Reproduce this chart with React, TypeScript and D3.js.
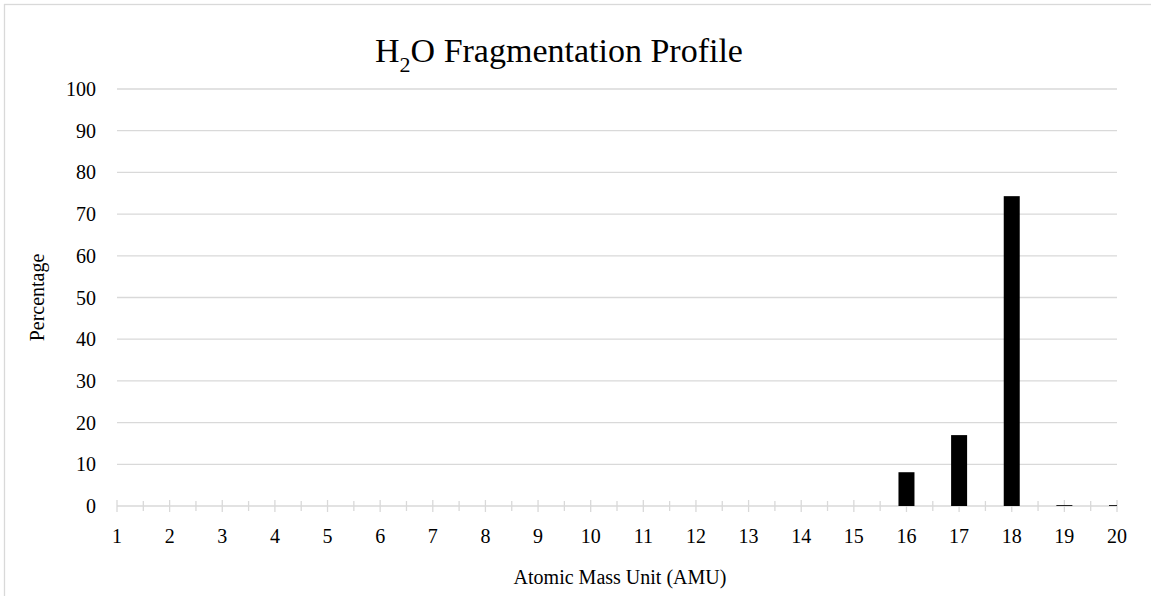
import React from "react";
import * as d3 from "d3";

const amu = [1, 2, 3, 4, 5, 6, 7, 8, 9, 10, 11, 12, 13, 14, 15, 16, 17, 18, 19, 20];
const percentage = [0, 0, 0, 0, 0, 0, 0, 0, 0, 0, 0, 0, 0, 0, 0, 8.1, 17.0, 74.3, 0.2, 0.2];
const yTicks = [0, 10, 20, 30, 40, 50, 60, 70, 80, 90, 100];
const titleMain = "H";
const titleSub = "2";
const titleRest = "O Fragmentation Profile";
const yTitle = "Percentage";
const xTitle = "Atomic Mass Unit (AMU)";

const W = 1151;
const H = 596;
const M = { left: 117, right: 1117, top: 89, bottom: 506 };
const FONT = "'Liberation Serif', 'Times New Roman', serif";
const GRID = "#d9d9d9";

export default function App() {
  const x = d3.scaleLinear().domain([1, 20]).range([M.left, M.right]);
  const y = d3.scaleLinear().domain([0, 100]).range([M.bottom, M.top]);
  const barW = 16;
  const minor = d3.range(1.5, 20, 1);

  return (
    <svg
      width={W}
      height={H}
      style={{ position: "absolute", left: 0, top: 0, background: "#fff" }}
      fontFamily={FONT}
    >
      <defs>
        <clipPath id="plot">
          <rect x={M.left} y={M.top - 5} width={M.right - M.left} height={M.bottom - M.top + 5} />
        </clipPath>
      </defs>
      <rect x={4.5} y={4.5} width={1200} height={700} fill="#fff" stroke={GRID} strokeWidth={1.3} />
      {/* gridlines */}
      {yTicks.map((t) => (
        <line key={"g" + t} x1={M.left} x2={M.right} y1={y(t)} y2={y(t)} stroke={GRID} strokeWidth={1.3} />
      ))}
      {/* y labels */}
      {yTicks.map((t) => (
        <text key={"yl" + t} x={96} y={y(t)} dy="0.35em" textAnchor="end" fontSize={20} fill="#000">
          {t}
        </text>
      ))}
      {/* x axis ticks */}
      {amu.map((v) => (
        <line key={"mt" + v} x1={x(v)} x2={x(v)} y1={M.bottom - 6} y2={M.bottom + 6} stroke={GRID} strokeWidth={1.3} />
      ))}
      {minor.map((v) => (
        <line key={"nt" + v} x1={x(v)} x2={x(v)} y1={M.bottom - 5} y2={M.bottom + 5} stroke={GRID} strokeWidth={1.3} />
      ))}
      {/* bars */}
      <g clipPath="url(#plot)">
        {amu.map((v, i) =>
          percentage[i] > 0 ? (
            <rect
              key={"b" + v}
              x={x(v) - barW / 2}
              y={y(percentage[i])}
              width={barW}
              height={y(0) - y(percentage[i])}
              fill="#000"
            />
          ) : null
        )}
      </g>
      {/* x labels */}
      {amu.map((v) => (
        <text key={"xl" + v} x={x(v)} y={543} textAnchor="middle" fontSize={20} fill="#000">
          {v}
        </text>
      ))}
      {/* title */}
      <text x={559} y={62} textAnchor="middle" fontSize={34} fill="#000">
        <tspan>{titleMain}</tspan>
        <tspan fontSize={22} dy={10}>{titleSub}</tspan>
        <tspan dy={-10}>{titleRest}</tspan>
      </text>
      {/* axis titles */}
      <text
        transform={`translate(44, ${(M.top + M.bottom) / 2}) rotate(-90)`}
        textAnchor="middle"
        fontSize={20}
        fill="#000"
      >
        {yTitle}
      </text>
      <text x={620} y={584} textAnchor="middle" fontSize={20} fill="#000">
        {xTitle}
      </text>
    </svg>
  );
}
